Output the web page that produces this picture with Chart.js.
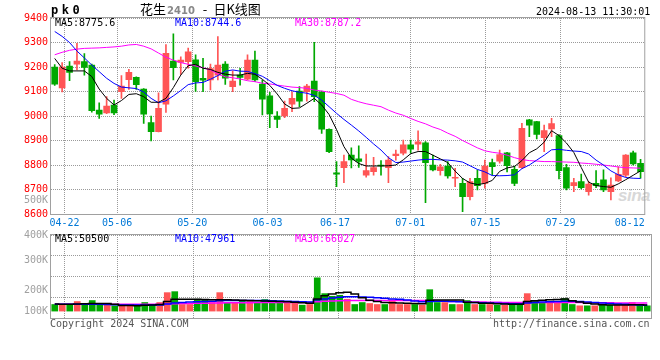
<!DOCTYPE html>
<html><head><meta charset="utf-8">
<script src="https://cdn.jsdelivr.net/npm/chart.js@4.4.1/dist/chart.umd.min.js"></script>
<style>
html,body{margin:0;padding:0;background:#fff;}
#wrap{position:relative;width:660px;height:360px;overflow:hidden;font-family:"DejaVu Sans Mono",monospace;}
.t{position:absolute;white-space:pre;font-family:"DejaVu Sans Mono",monospace;font-size:10px;line-height:10px;}
canvas{position:absolute;left:0;}
#wm{position:absolute;left:618px;top:186px;font:italic bold 17px "Liberation Sans",sans-serif;color:#d8d8d8;letter-spacing:-0.5px;}
</style></head><body>
<div id="wrap">
<div id="wm">sina</div>
<canvas id="main" width="660" height="232" style="top:0"></canvas>
<canvas id="vol" width="660" height="134" style="top:226px"></canvas>
<div class="t" style="left:51px;top:4px;font:bold 12px 'DejaVu Sans Mono';letter-spacing:3.5px;line-height:12px;">pk0</div>
<div class="t" id="title" style="left:140px;top:2px;font-size:13px;line-height:14px;font-family:'Noto Sans CJK SC';"><span id="tt1"></span><span id="tt2" style="font-family:'DejaVu Sans';font-weight:bold;font-size:10px;color:#888;margin-left:1px;"></span><span id="tt3" style="margin:0 6px 0 8px;"></span><span id="tt4"></span></div>
<div class="t" id="stamp" style="left:536px;top:7px;color:#000;"></div>
<div class="t" id="pl0" style="left:55px;top:18px;color:#000;"></div>
<div class="t" id="pl1" style="left:175px;top:18px;color:#0000ff;"></div>
<div class="t" id="pl2" style="left:295px;top:18px;color:#ff00ff;"></div>
<div class="t" id="vl0" style="left:55px;top:234px;color:#000;"></div>
<div class="t" id="vl1" style="left:175px;top:234px;color:#0000ff;"></div>
<div class="t" id="vl2" style="left:295px;top:234px;color:#ff00ff;"></div>
<div class="t" id="copy" style="left:50px;top:319px;color:#555;"></div>
<div class="t" id="url" style="left:493px;top:319px;color:#555;"></div>
</div>
<script>
// ---------- text ----------
const titleParts = ['花生', '2410', '-', '日K线图'];
const stampText = '2024-08-13 11:30:01';
const priceMaLabels = ['MA5:8775.6', 'MA10:8744.6', 'MA30:8787.2'];
const volMaLabels = ['MA5:50500', 'MA10:47961', 'MA30:66027'];
const footerTexts = ['Copyright 2024 SINA.COM', 'http://finance.sina.com.cn'];

// ---------- categories ----------
const dates = ['04-18','04-19','04-22','04-23','04-24','04-25','04-26','04-29','04-30',
'05-06','05-07','05-08','05-09','05-10','05-13','05-14','05-15','05-16','05-17',
'05-20','05-21','05-22','05-23','05-24','05-27','05-28','05-29','05-30','05-31',
'06-03','06-04','06-05','06-06','06-07','06-11','06-12','06-13','06-14',
'06-17','06-18','06-19','06-20','06-21','06-24','06-25','06-26','06-27','06-28',
'07-01','07-02','07-03','07-04','07-05','07-08','07-09','07-10','07-11','07-12',
'07-15','07-16','07-17','07-18','07-19','07-22','07-23','07-24','07-25','07-26',
'07-29','07-30','07-31','08-01','08-02','08-05','08-06','08-07','08-08','08-09','08-12','08-13'];
const tickDates = ['04-22','05-06','05-20','06-03','06-17','07-01','07-15','07-29','08-12'];
const gridDates = ['04-22','05-06','05-20','06-03','06-17','07-01','07-15','07-29'];
const priceTickValues = [8600,8700,8800,8900,9000,9100,9200,9300,9400];
const volTickLabels = ['500K','400K','300K','200K','100K'];

// ---------- OHLC ----------
const open = [9200,9115,9204,9212,9222,9208,9024,9013,9045,9099,9148,9158,9110,8973,8936,9048,9224,9219,9222,9229,
9154,9147,9167,9212,9120,9167,9150,9228,9130,9082,9000,9000,9048,9102,9099,9143,9099,8946,8768,8789,
8841,8825,8759,8773,8800,8789,8838,8848,8882,8885,8891,8800,8777,8796,8746,8725,8671,8746,8725,8810,
8816,8850,8782,8789,8984,8977,8912,8947,8920,8789,8716,8732,8691,8725,8739,8691,8735,8759,8850,8807];
const high = [9210,9218,9222,9297,9255,9212,9054,9079,9065,9165,9191,9160,9112,9000,9095,9292,9335,9242,9277,9250,
9235,9212,9324,9222,9184,9195,9250,9265,9147,9097,9018,9061,9099,9120,9129,9301,9102,8948,8814,8841,
8870,8878,8845,8831,8818,8834,8861,8902,8902,8939,8896,8841,8803,8814,8786,8746,8746,8780,8820,8824,
8861,8852,8796,8970,8986,8978,8963,8990,8924,8803,8746,8763,8732,8777,8780,8748,8793,8843,8857,8823];
const low = [9125,9098,9144,9188,9167,9016,8990,9010,9005,9072,9108,9109,8970,8898,8935,9015,9147,9170,9195,9100,
9099,9106,9147,9129,9099,9126,9147,9140,9004,8952,8952,8993,9018,9038,9061,9058,8929,8850,8712,8728,
8788,8790,8750,8759,8759,8728,8820,8841,8848,8861,8646,8776,8759,8746,8712,8610,8657,8698,8705,8759,
8807,8772,8716,8786,8916,8906,8854,8916,8743,8698,8691,8702,8677,8707,8691,8657,8732,8752,8800,8746];
const close = [9130,9200,9178,9224,9198,9022,9007,9041,9013,9122,9178,9128,9007,8936,9031,9256,9197,9228,9262,9140,
9146,9194,9208,9154,9143,9157,9228,9147,9069,9008,8986,9031,9072,9061,9122,9079,8946,8854,8763,8814,
8821,8815,8777,8789,8796,8820,8845,8882,8865,8895,8810,8780,8793,8755,8749,8671,8732,8716,8796,8793,
8843,8797,8725,8950,8963,8925,8940,8969,8777,8705,8728,8707,8722,8716,8698,8718,8762,8841,8804,8773];

// ---------- price moving averages ----------
const ma5 = [9235,9195,9184,9184,9184,9161,9110,9072,9045,9063,9088,9091,9079,9056,9056,9072,9116,9167,9205,9211,
9195,9190,9178,9171,9167,9167,9174,9170,9150,9125,9090,9049,9031,9033,9052,9072,9045,9006,8945,8875,
8828,8806,8796,8796,8796,8797,8800,8821,8846,8855,8855,8840,8825,8810,8775,8745,8727,8720,8725,8737,
8774,8788,8794,8818,8850,8866,8893,8940,8920,8890,8851,8790,8730,8716,8712,8709,8723,8740,8758,8776];
const ma10 = [9345,9325,9300,9265,9237,9208,9181,9154,9133,9118,9115,9112,9098,9072,9054,9062,9082,9104,9128,9135,
9137,9150,9165,9183,9188,9183,9182,9173,9162,9144,9125,9113,9103,9097,9093,9084,9065,9038,9011,8986,
8963,8939,8913,8886,8861,8830,8810,8812,8816,8820,8823,8823,8821,8820,8817,8812,8797,8782,8772,8757,
8756,8757,8760,8785,8800,8820,8840,8862,8864,8860,8857,8855,8845,8820,8800,8776,8760,8749,8746,8745];
const ma30 = [9250,9260,9268,9273,9276,9277,9278,9280,9282,9285,9290,9292,9285,9274,9257,9240,9228,9218,9211,9204,
9197,9188,9172,9160,9156,9151,9144,9140,9134,9131,9126,9122,9118,9116,9113,9106,9102,9097,9092,9085,
9068,9058,9050,9044,9038,9024,9012,9003,8990,8978,8968,8955,8945,8930,8917,8900,8885,8870,8858,8852,
8848,8840,8830,8822,8818,8816,8814,8814,8813,8812,8811,8808,8806,8803,8800,8796,8792,8789,8788,8787];

// ---------- volume ----------
const volume = [54000,54000,48600,78300,48600,86400,48600,48600,43200,43200,43200,43200,70200,48600,70200,151200,159300,54000,54000,97200,
91800,70200,151200,70200,70200,81000,81000,70200,94500,70200,70200,70200,70200,48600,54000,272700,143100,121500,129600,97200,
54000,70200,62100,54000,54000,89100,54000,54000,54000,48600,175500,70200,70200,54000,54000,86400,54000,54000,54000,48600,
48600,48600,54000,143100,81000,70200,70200,70200,102600,54000,43200,43200,43200,48600,48600,48600,48600,70200,48600,43200];
const volMa5 = [58000,56000,56000,58000,60000,62000,62000,62000,56000,46000,45000,44000,48000,50000,54000,78000,96000,96000,96000,96000,
95000,92000,92000,92000,90000,88000,86000,84000,82000,80000,78000,76000,72000,68000,64000,100000,125000,140000,150000,155000,
140000,110000,88000,78000,70000,68000,66000,64000,62000,60000,88000,90000,90000,90000,90000,72000,70000,65000,64000,60000,
58000,56000,56000,78000,84000,88000,92000,95000,100000,85000,75000,65000,58000,52000,50000,50000,50000,52000,52000,50500];
const volMa10 = [56000,56000,56000,56000,56000,56000,56000,54000,52000,50000,50000,50000,50000,50000,50000,58000,66000,70000,74000,76000,
78000,80000,84000,86000,86000,86000,86000,86000,86000,84000,82000,80000,78000,76000,74000,92000,100000,108000,114000,118000,
118000,116000,114000,110000,106000,100000,96000,90000,82000,76000,78000,80000,80000,78000,76000,72000,70000,68000,66000,64000,
62000,60000,60000,66000,70000,74000,76000,78000,80000,80000,78000,74000,70000,66000,62000,58000,55000,52000,50000,47961];
const volMa30 = [56000,56000,56000,56000,56000,56000,56000,56000,56000,56000,56000,56000,56000,56000,56000,58000,60000,62000,63000,64000,
65000,66000,67000,68000,68000,69000,69000,70000,70000,70000,70000,70000,70000,70000,70000,76000,80000,82000,84000,86000,
86000,86000,86000,86000,86000,86000,86000,86000,86000,86000,84000,82000,80000,79000,78000,76000,75000,74000,73000,72000,
71000,70000,70000,70000,70000,70000,70000,70000,70000,70000,70000,69000,69000,68000,68000,67000,67000,66000,66000,66027];

// ---------- styles ----------
const RED = '#ff5555', GREEN = '#00a800';
const GRID = '#9a9a9a', FRAME = '#a0a0a0', NONE = 'rgba(0,0,0,0)';
const MONO = 'DejaVu Sans Mono';
const VOL500_AT = 8656;            // where the stray 500K label sits on the price panel
const VOL_LABEL_POS = [1, 0.69, 0.333, 0.083];
const DATE_AXIS_RANGE = [0.2, 79.14]; // Sina's date grid runs on a slightly wider pitch than the candles

titleParts.forEach((s, i) => document.getElementById('tt' + (i + 1)).textContent = s);
document.getElementById('stamp').textContent = stampText;
priceMaLabels.forEach((s, i) => document.getElementById('pl' + i).textContent = s);
volMaLabels.forEach((s, i) => document.getElementById('vl' + i).textContent = s);
document.getElementById('copy').textContent = footerTexts[0];
document.getElementById('url').textContent = footerTexts[1];

const candleColor = close.map((c, i) => c >= open[i] ? RED : GREEN);
const bodies = open.map((o, i) => [Math.min(o, close[i]), Math.max(o, close[i])]);
const wicks = low.map((l, i) => [l, high[i]]);
const gridIdx = gridDates.map(d => dates.indexOf(d));
const tickIdx = tickDates.map(d => dates.indexOf(d));
const lastTick = tickDates[tickDates.length - 1];

const frame = {
  id: 'frame',
  afterDraw(chart) {
    const { ctx, chartArea: a } = chart;
    ctx.save();
    ctx.strokeStyle = FRAME; ctx.lineWidth = 1;
    ctx.strokeRect(a.left - 0.5, a.top - 0.5, a.right - a.left + 1, a.bottom - a.top + 1);
    ctx.restore();
  }
};

const lineDs = (data, color, axis, extra) => Object.assign({
  type: 'line', data, borderColor: color, borderWidth: 1, pointRadius: 0, tension: 0, fill: false, yAxisID: axis
}, extra || {});

// vertical date grid: a label-less linear axis over the date indices
const dateGridAxis = () => ({
  type: 'linear', position: 'bottom', offset: false, bounds: 'data',
  min: DATE_AXIS_RANGE[0], max: DATE_AXIS_RANGE[1],
  afterBuildTicks: (s) => { s.ticks = gridIdx.map(v => ({ value: v })); },
  ticks: { display: false },
  grid: { color: GRID, drawTicks: false, lineWidth: 1, offset: false },
  border: { display: false, dash: [1, 1] },
  afterFit: (s) => { s.height = 0; }
});

Chart.defaults.font.family = MONO;
Chart.defaults.font.size = 10;

new Chart(document.getElementById('main'), {
  type: 'bar',
  data: {
    labels: dates,
    datasets: [
      lineDs(ma5, '#000000', 'y'),
      lineDs(ma10, '#0000ff', 'y'),
      lineDs(ma30, '#ff00ff', 'y'),
      { data: bodies, backgroundColor: candleColor, barThickness: 6, grouped: false, minBarLength: 1, borderWidth: 0, yAxisID: 'y' },
      { data: wicks, backgroundColor: candleColor, barThickness: 1, grouped: false, borderWidth: 0, yAxisID: 'y' }
    ]
  },
  options: {
    responsive: false, animation: false,
    layout: { padding: { top: 18, right: 9, left: 0, bottom: 0 } },
    plugins: { legend: { display: false }, tooltip: { enabled: false } },
    scales: {
      x: { type: 'category', offset: true, display: false },
      xg: dateGridAxis(),
      xl: {
        type: 'linear', position: 'bottom', offset: false, bounds: 'data',
        min: DATE_AXIS_RANGE[0], max: DATE_AXIS_RANGE[1],
        afterBuildTicks: (s) => { s.ticks = tickIdx.map(v => ({ value: v })); },
        grid: { display: false, drawTicks: false, offset: false },
        border: { display: false },
        ticks: {
          maxRotation: 0, minRotation: 0, padding: 3, color: '#0078d7',
          font: { family: MONO, size: 10 },
          callback: (v) => dates[v] === lastTick ? dates[v] + '  ' : dates[v]
        },
        afterFit: (s) => { s.height = 18; }
      },
      y: {
        position: 'left', min: 8600, max: 9400,
        afterBuildTicks: (s) => {
          s.ticks = priceTickValues.map(v => ({ value: v }));
          s.ticks.splice(1, 0, { value: VOL500_AT });
        },
        grid: { color: (c) => c.tick && c.tick.value === VOL500_AT ? NONE : GRID, drawTicks: false, lineWidth: 1 },
        border: { display: false, dash: [1, 1] },
        ticks: {
          padding: 3, font: { family: MONO, size: 10 },
          color: (c) => c.tick && c.tick.value === VOL500_AT ? '#a0a0a0' : '#ff0000',
          callback: (v) => v === VOL500_AT ? volTickLabels[0] : String(v)
        },
        afterFit: (s) => { s.width = 51; }
      }
    }
  },
  plugins: [frame]
});

new Chart(document.getElementById('vol'), {
  type: 'bar',
  data: {
    labels: dates,
    datasets: [
      lineDs(volMa5, '#000000', 'vol', { stepped: 'middle', borderWidth: 1.5 }),
      lineDs(volMa10, '#0000ff', 'vol', { stepped: 'middle', borderWidth: 1.5 }),
      lineDs(volMa30, '#ff00ff', 'vol', { stepped: 'middle', borderWidth: 1.5 }),
      { data: volume, backgroundColor: candleColor, barThickness: 6, borderWidth: 0, yAxisID: 'vol' }
    ]
  },
  options: {
    responsive: false, animation: false,
    layout: { padding: { top: 8, right: 9, left: 0, bottom: 42 } },
    plugins: { legend: { display: false }, tooltip: { enabled: false } },
    scales: {
      x: { type: 'category', offset: true, display: false },
      xg: dateGridAxis(),
      vlab: {
        type: 'linear', position: 'left', min: 0, max: 1,
        afterBuildTicks: (s) => { s.ticks = VOL_LABEL_POS.map(v => ({ value: v })); },
        grid: { display: false, drawTicks: false },
        border: { display: false },
        ticks: {
          padding: 3, color: '#a0a0a0', font: { family: MONO, size: 10 },
          callback: (v, i) => volTickLabels[i + 1]
        },
        afterFit: (s) => { s.width = 51; }
      },
      vgrid: {
        type: 'linear', position: 'left', min: 0, max: 4,
        ticks: { display: false, stepSize: 1 },
        grid: { color: GRID, drawTicks: false },
        border: { display: false, dash: [1, 1] },
        afterFit: (s) => { s.width = 0; }
      },
      vol: {
        type: 'linear', display: false, min: -56700, max: 623700
      }
    }
  },
  plugins: [frame]
});
</script>
</body></html>
